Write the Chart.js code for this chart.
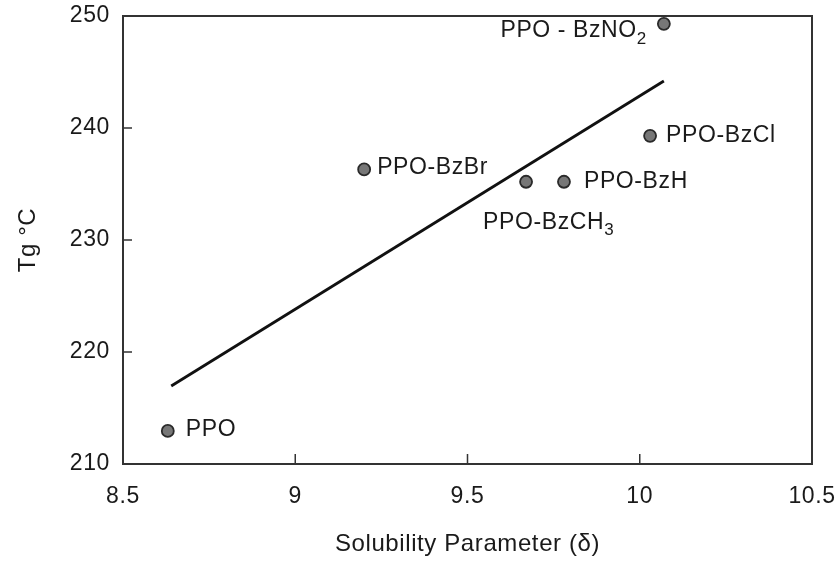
<!DOCTYPE html>
<html>
<head>
<meta charset="utf-8">
<script src="https://cdn.jsdelivr.net/npm/chart.js@4"></script>
<style>
  html, body { margin: 0; padding: 0; background: #fff; }
  #wrap { width: 840px; height: 562px; }
</style>
</head>
<body>
<div id="wrap"><canvas id="tgChart"></canvas></div>
<script>
// Glass transition temperature vs solubility parameter for PPO derivatives
const polymers = ["PPO", "PPO-BzBr", "PPO-BzCH", "PPO-BzH", "PPO-BzCl", "PPO - BzNO"];
const subscripts = ["", "", "3", "", "", "2"];
const solubility = [8.63, 9.20, 9.67, 9.78, 10.03, 10.07];
const tg = [212.95, 236.3, 235.2, 235.2, 239.3, 249.3];

// least-squares line endpoints
const fitX = [8.64, 10.07];
const fitY = [216.96, 244.2];

const xTicks = [8.5, 9, 9.5, 10, 10.5];
const yTicks = [210, 220, 230, 240, 250];

// label placement relative to each marker: dx, dy, anchor
const labelPlace = [
  [18, -1, "left"],
  [13, -2, "left"],
  [-43, 41, "left"],
  [20, 0, "left"],
  [16, 0, "left"],
  [-17, 7, "right"]
];

const FONT = '"Liberation Sans", Arial, sans-serif';
const INK = "#1a1a1a";
const SIZE = 23;

const spacing = {
  id: "spacing",
  beforeLayout(chart) { chart.ctx.letterSpacing = "0.6px"; },
  beforeDraw(chart) { chart.ctx.letterSpacing = "0.6px"; }
};

const frame = {
  id: "frame",
  afterDatasetsDraw(chart) {
    const { ctx, chartArea: a, scales } = chart;
    ctx.save();
    ctx.strokeStyle = "#333";
    ctx.lineWidth = 2;
    ctx.strokeRect(a.left, a.top, a.right - a.left, a.bottom - a.top);
    ctx.lineWidth = 1.5;
    ctx.beginPath();
    xTicks.slice(1, -1).forEach(v => {
      const px = scales.x.getPixelForValue(v);
      ctx.moveTo(px, a.bottom);
      ctx.lineTo(px, a.bottom - 10);
    });
    yTicks.slice(1, -1).forEach(v => {
      const py = scales.y.getPixelForValue(v);
      ctx.moveTo(a.left, py);
      ctx.lineTo(a.left + 9, py);
    });
    ctx.stroke();
    ctx.restore();
  }
};

const pointLabels = {
  id: "pointLabels",
  afterDatasetsDraw(chart) {
    const { ctx, scales } = chart;
    ctx.save();
    ctx.fillStyle = INK;
    ctx.textBaseline = "middle";
    ctx.textAlign = "left";
    ctx.letterSpacing = "0.6px";
    polymers.forEach((name, i) => {
      const px = scales.x.getPixelForValue(solubility[i]);
      const py = scales.y.getPixelForValue(tg[i]);
      const [dx, dy, anchor] = labelPlace[i];
      ctx.font = SIZE + "px " + FONT;
      const w1 = ctx.measureText(name).width;
      ctx.font = "17px " + FONT;
      const w2 = subscripts[i] ? ctx.measureText(subscripts[i]).width : 0;
      let x = px + dx;
      if (anchor === "right") x -= w1 + w2;
      const y = py + dy;
      ctx.font = SIZE + "px " + FONT;
      ctx.fillText(name, x, y);
      if (subscripts[i]) {
        ctx.font = "17px " + FONT;
        ctx.fillText(subscripts[i], x + w1, y + 8);
      }
    });
    ctx.restore();
  }
};

new Chart(document.getElementById("tgChart"), {
  type: "scatter",
  data: {
    datasets: [
      {
        label: "Fit",
        data: fitX.map((x, i) => ({ x, y: fitY[i] })),
        showLine: true,
        borderColor: "#111",
        borderWidth: 2.8,
        pointRadius: 0
      },
      {
        label: "Tg",
        data: solubility.map((x, i) => ({ x, y: tg[i] })),
        pointRadius: 6,
        pointBackgroundColor: "#777",
        pointBorderColor: "#2a2a2a",
        pointBorderWidth: 1.8
      }
    ]
  },
  options: {
    responsive: true,
    maintainAspectRatio: false,
    animation: false,
    layout: { padding: { top: 16, right: 28, left: 0, bottom: 0 } },
    plugins: {
      legend: { display: false },
      tooltip: { enabled: false }
    },
    scales: {
      x: {
        type: "linear",
        min: 8.5,
        max: 10.5,
        afterBuildTicks: s => { s.ticks = xTicks.map(v => ({ value: v })); },
        afterFit: s => { s.height = 98; s.paddingLeft = 0; s.paddingRight = 0; },
        grid: { display: false, drawTicks: false },
        border: { display: false },
        ticks: {
          color: INK,
          padding: 19,
          maxRotation: 0,
          font: { family: FONT, size: SIZE },
          callback: v => String(v)
        },
        title: {
          display: true,
          text: "Solubility Parameter (δ)",
          color: INK,
          padding: { top: 0, bottom: 3 },
          font: { family: FONT, size: 24 }
        }
      },
      y: {
        type: "linear",
        min: 210,
        max: 250,
        afterBuildTicks: s => { s.ticks = yTicks.map(v => ({ value: v })); },
        afterFit: s => { s.width = 123; s.paddingTop = 0; s.paddingBottom = 0; },
        grid: { display: false, drawTicks: false },
        border: { display: false },
        ticks: { color: INK, padding: 13, font: { family: FONT, size: SIZE } },
        title: {
          display: true,
          text: "Tg °C",
          color: INK,
          padding: { top: 14, bottom: 0 },
          font: { family: FONT, size: 24 }
        }
      }
    }
  },
  plugins: [spacing, frame, pointLabels]
});
</script>
</body>
</html>
